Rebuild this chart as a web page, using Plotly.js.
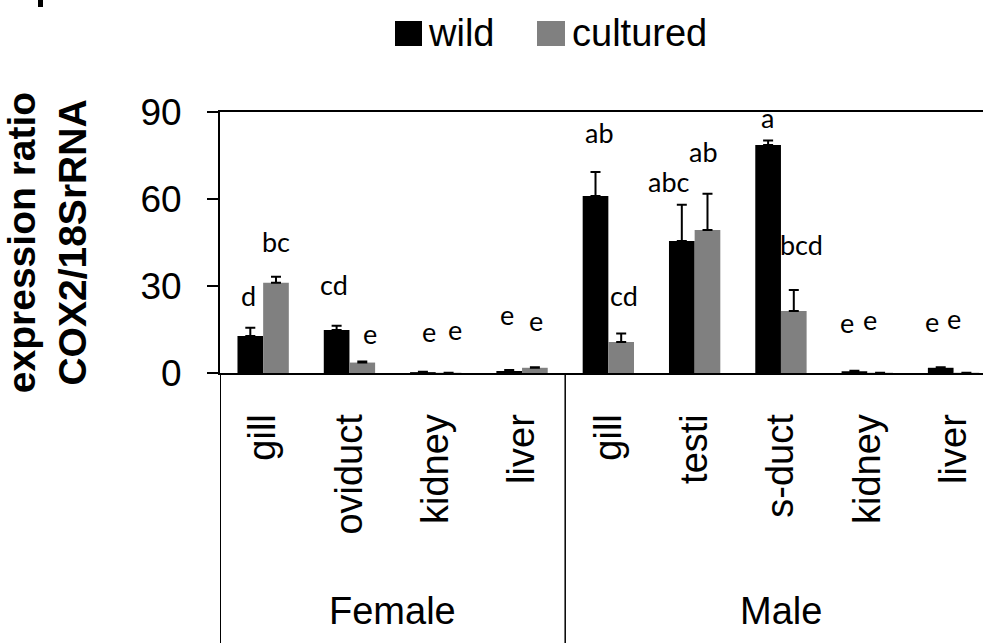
<!DOCTYPE html>
<html>
<head>
<meta charset="utf-8">
<script src="https://cdn.plot.ly/plotly-3.0.1.min.js"></script>
<style>html,body{margin:0;padding:0;background:#fff;}#chart{width:983px;height:643px;}</style>
</head>
<body>
<div id="chart"></div>
<script>
// ---- data ----
const categories = ["gill", "oviduct", "kidney", "liver", "gill", "testi", "s-duct", "kidney", "liver"];
const groups = ["Female", "Female", "Female", "Female", "Male", "Male", "Male", "Male", "Male"];
const seriesNames = ["wild", "cultured"];
const wildValues = [12.8, 14.8, 0.3, 0.7, 61.0, 45.5, 78.6, 0.6, 1.8];
const wildErrors = [2.8, 1.5, 0.1, 0.3, 8.3, 12.5, 1.6, 0.2, 0.2];
const culturedValues = [31.1, 3.6, 0.1, 1.8, 10.7, 49.3, 21.4, 0.1, 0.1];
const culturedErrors = [2.1, 0.4, 0.0, 0.2, 2.9, 12.5, 7.2, 0.0, 0.0];
const wildLetters = ["d", "cd", "e", "e", "ab", "abc", "a", "e", "e"];
const culturedLetters = ["bc", "e", "e", "e", "cd", "ab", "bcd", "e", "e"];
const yTicks = [0, 30, 60, 90];

// ---- letter placement (pixel offsets from error-bar top) ----
const wildLetterDx = [-2, -3, 6, -2, 4, -13, -1, -7, -9];
const wildLetterGap = [21, 30, 29, 44, 28, 12, 11, 37, 34];
const culturedLetterDx = [0, 8, 6, 1, 3, -4, 8, -10, -12];
const culturedLetterGap = [24, 16, 32, 35, 27, 31, 34, 42, 43];

// ---- geometry ----
const W = 983, H = 643;
const M = {l: 220, r: 0, t: 112, b: 270};
const plotW = W - M.l - M.r, plotH = H - M.t - M.b;
const catPx = 86.3;
const px2x = p => (p - M.l) / plotW;
const py2y = p => (H - M.b - p) / plotH;
const FONT = "Liberation Sans, Arial, sans-serif";
const LFONT = "Lato, Carlito, sans-serif";
const BASE = 7;

const idx = categories.map((_, i) => i);
const colors = ["#000000", "#808080"];

const traces = [
  {type: "bar", name: seriesNames[0], x: idx, y: wildValues, marker: {color: colors[0], line: {width: 0}},
   error_y: {type: "data", array: wildErrors, arrayminus: wildErrors.map(() => 0), symmetric: false, color: "#000", thickness: 2, width: 5},
   showlegend: false, hoverinfo: "skip"},
  {type: "bar", name: seriesNames[1], x: idx, y: culturedValues, marker: {color: colors[1], line: {width: 0}},
   error_y: {type: "data", array: culturedErrors, arrayminus: culturedErrors.map(() => 0), symmetric: false, color: "#000", thickness: 2, width: 5},
   showlegend: false, hoverinfo: "skip"}
];

const annotations = [];
const half = (1 - 0.405) / 4; // bar center offset in category units
idx.forEach(i => {
  annotations.push({x: i - half, y: wildValues[i] + wildErrors[i], xref: "x", yref: "y", text: wildLetters[i],
    showarrow: false, xanchor: "center", yanchor: "bottom", xshift: wildLetterDx[i], yshift: wildLetterGap[i] - BASE,
    font: {family: LFONT, size: 27, color: "#000"}});
  annotations.push({x: i + half, y: culturedValues[i] + culturedErrors[i], xref: "x", yref: "y", text: culturedLetters[i],
    showarrow: false, xanchor: "center", yanchor: "bottom", xshift: culturedLetterDx[i], yshift: culturedLetterGap[i] - BASE,
    font: {family: LFONT, size: 27, color: "#000"}});
});

// group labels and dividers
const shapes = [];
const groupNames = [...new Set(groups)];
groupNames.forEach(g => {
  const members = idx.filter(i => groups[i] === g);
  const mid = (members[0] + members[members.length - 1]) / 2;
  annotations.push({x: mid, y: py2y(611), xref: "x", yref: "paper", text: g, showarrow: false,
    xanchor: "center", yanchor: "middle", font: {family: FONT, size: 38, color: "#000"}});
  shapes.push({type: "line", xref: "x", yref: "paper", x0: members[0] - 0.5, x1: members[0] - 0.5,
    y0: 0, y1: -1.2, line: {color: "#000", width: members[0] === 0 ? 2 : 1.5}});
});

// manual legend
const legendBoxes = [[395, 422], [537, 565]];
const legendText = [426, 570];
seriesNames.forEach((n, k) => {
  shapes.push({type: "rect", xref: "paper", yref: "paper", x0: px2x(legendBoxes[k][0]), x1: px2x(legendBoxes[k][1]),
    y0: py2y(46), y1: py2y(21), fillcolor: colors[k], line: {width: 0}});
  annotations.push({x: px2x(legendText[k]), y: py2y(33), xref: "paper", yref: "paper", text: n, showarrow: false,
    xanchor: "left", yanchor: "middle", font: {family: FONT, size: 38, color: "#000"}});
});

// fragment of panel letter at top-left
shapes.push({type: "rect", xref: "paper", yref: "paper", x0: px2x(38), x1: px2x(43), y0: py2y(7), y1: py2y(-2),
  fillcolor: "#000", line: {width: 0}});

const layout = {
  width: W, height: H,
  margin: {l: M.l, r: M.r, t: M.t, b: M.b, pad: 0},
  paper_bgcolor: "#fff", plot_bgcolor: "#fff",
  barmode: "group", bargap: 0.405, bargroupgap: 0,
  showlegend: false,
  xaxis: {
    range: [-0.5, -0.5 + plotW / catPx], tickvals: idx, ticktext: categories, tickangle: -90,
    tickfont: {family: FONT, size: 38, color: "#000"}, ticks: "", ticklabelstandoff: 24,
    showline: true, linecolor: "#000", linewidth: 2, mirror: true,
    showgrid: false, zeroline: false, fixedrange: true
  },
  yaxis: {
    range: [0, 90], tickvals: yTicks, ticktext: yTicks.map(String),
    ticks: "outside", ticklen: 11, tickwidth: 2, tickcolor: "#000",
    tickfont: {family: FONT, size: 37, color: "#000"}, ticklabelstandoff: 18,
    showline: true, linecolor: "#000", linewidth: 2,
    showgrid: false, zeroline: false, fixedrange: true,
    title: {text: "<b>expression ratio<br>COX2/18SrRNA</b>", font: {family: FONT, size: 39, color: "#000"}, standoff: 44}
  },
  annotations: annotations,
  shapes: shapes
};

Plotly.newPlot("chart", traces, layout, {staticPlot: true, displayModeBar: false});
</script>
</body>
</html>
